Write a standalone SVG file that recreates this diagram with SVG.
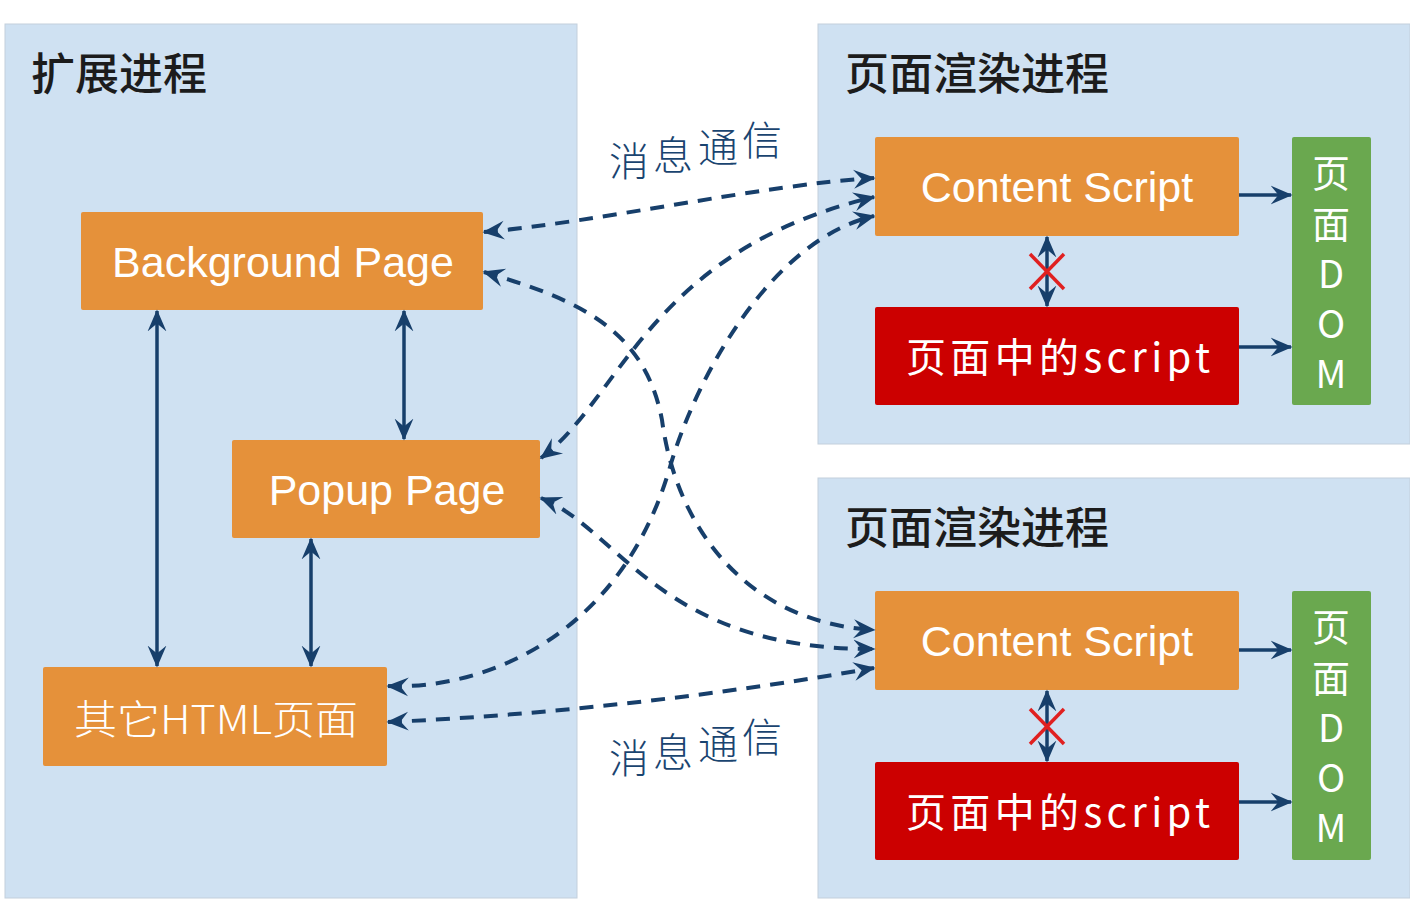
<svg xmlns="http://www.w3.org/2000/svg" width="1410" height="900" viewBox="0 0 1410 900">
<defs>
<style>
.panel{fill:#cfe1f2;stroke:#c3cfdc;stroke-width:1}
.title{font-family:"Noto Sans CJK SC","Liberation Sans",sans-serif;font-size:44px;fill:#1c1c1c;font-weight:500}
.orange{fill:#e5913a}
.red{fill:#cc0000}
.green{fill:#6aa84f}
.lbl{font-family:"Liberation Sans",Arial,sans-serif;font-size:43px;fill:#fff;text-anchor:middle}
.cjk{font-family:"Noto Sans CJK SC","Liberation Sans",sans-serif;fill:#fff;text-anchor:middle}
.vert{font-family:"Noto Sans CJK SC","Liberation Sans",sans-serif;fill:#fff;text-anchor:middle;font-size:38px}
.msg{font-family:"Noto Sans CJK SC",sans-serif;font-size:40px;fill:#1a4470;font-weight:300}
.solid{fill:none;stroke:#173f6b;stroke-width:3.5}
.dash{fill:none;stroke:#173f6b;stroke-width:4;stroke-dasharray:14 10}
.x{stroke:#e02020;stroke-width:3.5}
</style>
<marker id="ah" viewBox="0 0 14 14" refX="13" refY="7" markerWidth="22" markerHeight="22" markerUnits="userSpaceOnUse" orient="auto-start-reverse">
<path d="M0,1 L14,7 L0,13 L5,7 z" fill="#173f6b"/>
</marker>
<marker id="ad" viewBox="0 0 14 14" refX="13" refY="7" markerWidth="22" markerHeight="22" markerUnits="userSpaceOnUse" orient="auto-start-reverse">
<path d="M0,1 L14,7 L0,13 L5,7 z" fill="#173f6b"/>
</marker>
</defs>
<rect width="1410" height="900" fill="#fff"/>

<g id="ext-process">
<rect class="panel" x="5" y="24" width="572" height="874"/>
<text class="title" x="31" y="90">扩展进程</text>
</g>
<g id="render-process-1">
<rect class="panel" x="818" y="24" width="592" height="420"/>
<text class="title" x="845" y="90">页面渲染进程</text>
</g>
<g id="render-process-2">
<rect class="panel" x="818" y="478" width="592" height="420"/>
<text class="title" x="845" y="544">页面渲染进程</text>
</g>

<g id="background-page">
<rect class="orange" x="81" y="212" width="402" height="98" rx="2"/>
<text class="lbl" x="283" y="277">Background Page</text>
</g>
<g id="popup-page">
<rect class="orange" x="232" y="440" width="308" height="98" rx="2"/>
<text class="lbl" x="387" y="505">Popup Page</text>
</g>
<g id="other-html">
<rect class="orange" x="43" y="667" width="344" height="99" rx="2"/>
<text class="cjk" x="216" y="734" font-size="40" font-weight="300" textLength="284" lengthAdjust="spacingAndGlyphs">其它HTML页面</text>
</g>

<g id="content-script-1">
<rect class="orange" x="875" y="137" width="364" height="99" rx="2"/>
<text class="lbl" x="1057" y="202">Content Script</text>
</g>
<g id="page-script-1">
<rect class="red" x="875" y="307" width="364" height="98" rx="2"/>
<text class="cjk" x="1058" y="372" font-size="40" textLength="304" lengthAdjust="spacing">页面中的script</text>
</g>
<g id="page-dom-1">
<rect class="green" x="1292" y="137" width="79" height="268" rx="2"/>
<text class="vert" x="1331" y="187">页<tspan x="1331" dy="51">面</tspan><tspan x="1331" dy="50">D</tspan><tspan x="1331" dy="50">O</tspan><tspan x="1331" dy="50">M</tspan></text>
</g>

<g id="content-script-2">
<rect class="orange" x="875" y="591" width="364" height="99" rx="2"/>
<text class="lbl" x="1057" y="656">Content Script</text>
</g>
<g id="page-script-2">
<rect class="red" x="875" y="762" width="364" height="98" rx="2"/>
<text class="cjk" x="1058" y="827" font-size="40" textLength="304" lengthAdjust="spacing">页面中的script</text>
</g>
<g id="page-dom-2">
<rect class="green" x="1292" y="591" width="79" height="269" rx="2"/>
<text class="vert" x="1331" y="641">页<tspan x="1331" dy="51">面</tspan><tspan x="1331" dy="50">D</tspan><tspan x="1331" dy="50">O</tspan><tspan x="1331" dy="50">M</tspan></text>
</g>

<g id="connectors">
<line class="solid" x1="404" y1="311" x2="404" y2="439" marker-start="url(#ah)" marker-end="url(#ah)"/>
<line class="solid" x1="157" y1="311" x2="157" y2="666" marker-start="url(#ah)" marker-end="url(#ah)"/>
<line class="solid" x1="311" y1="539" x2="311" y2="666" marker-start="url(#ah)" marker-end="url(#ah)"/>

<line class="solid" x1="1239" y1="195" x2="1291" y2="195" marker-end="url(#ah)"/>
<line class="solid" x1="1239" y1="347" x2="1291" y2="347" marker-end="url(#ah)"/>
<line class="solid" x1="1239" y1="650" x2="1291" y2="650" marker-end="url(#ah)"/>
<line class="solid" x1="1239" y1="802" x2="1291" y2="802" marker-end="url(#ah)"/>

<line class="solid" x1="1047" y1="237" x2="1047" y2="306" marker-start="url(#ah)" marker-end="url(#ah)"/>
<line class="x" x1="1030" y1="254" x2="1064" y2="289"/>
<line class="x" x1="1064" y1="254" x2="1030" y2="289"/>
<line class="solid" x1="1047" y1="691" x2="1047" y2="761" marker-start="url(#ah)" marker-end="url(#ah)"/>
<line class="x" x1="1030" y1="709" x2="1064" y2="744"/>
<line class="x" x1="1064" y1="709" x2="1030" y2="744"/>

<path class="dash" d="M484,232 C600,222 760,185 874,178" marker-start="url(#ad)" marker-end="url(#ad)"/>
<path class="dash" d="M541,458 C620,400 650,250 874,197" marker-start="url(#ad)" marker-end="url(#ad)"/>
<path class="dash" d="M388,686 C480,690 620,640 670,467 C695,380 770,240 874,216" marker-start="url(#ad)" marker-end="url(#ad)"/>
<path class="dash" d="M484,272 C580,300 645,330 662,420 C675,520 740,622 874,630" marker-start="url(#ad)" marker-end="url(#ad)"/>
<path class="dash" d="M541,498 C620,530 660,650 874,649" marker-start="url(#ad)" marker-end="url(#ad)"/>
<path class="dash" d="M388,722 C550,715 720,695 874,668" marker-start="url(#ad)" marker-end="url(#ad)"/>
</g>

<g id="msg-label-1">
<text class="msg" x="609" y="176">消<tspan x="653" y="170">息</tspan><tspan x="698" y="162">通</tspan><tspan x="742" y="155">信</tspan></text>
</g>
<g id="msg-label-2">
<text class="msg" x="609" y="773">消<tspan x="653" y="767">息</tspan><tspan x="698" y="759">通</tspan><tspan x="742" y="752">信</tspan></text>
</g>
</svg>
